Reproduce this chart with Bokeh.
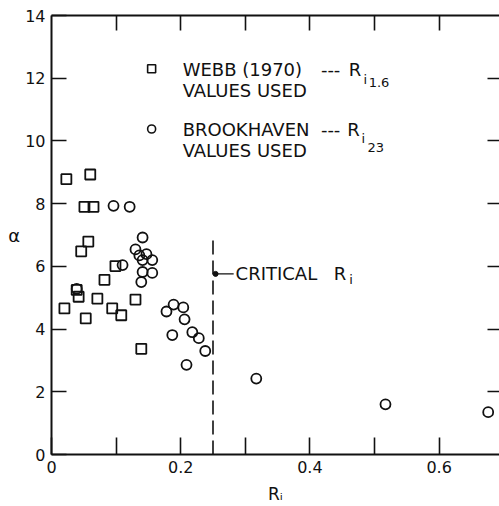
from bokeh.plotting import figure
from bokeh.models import Range1d, LinearAxis, FixedTicker, Label
from bokeh.embed import file_html
from bokeh.resources import INLINE

# ---- data ----
webb_ri = [0.023, 0.060, 0.051, 0.065, 0.057, 0.046, 0.099, 0.082, 0.020,
           0.039, 0.042, 0.053, 0.071, 0.094, 0.108, 0.130, 0.139]
webb_alpha = [8.78, 8.93, 7.90, 7.90, 6.79, 6.48, 6.01, 5.57, 4.66,
              5.25, 5.03, 4.34, 4.97, 4.66, 4.44, 4.94, 3.37]

brook_ri = [0.096, 0.121, 0.141, 0.130, 0.136, 0.147, 0.141, 0.156, 0.141,
            0.156, 0.139, 0.110, 0.178, 0.189, 0.204, 0.206, 0.187, 0.218,
            0.228, 0.238, 0.209, 0.317, 0.517, 0.676, 0.039]
brook_alpha = [7.93, 7.90, 6.92, 6.54, 6.35, 6.39, 6.20, 6.20, 5.82,
               5.79, 5.50, 6.04, 4.56, 4.78, 4.69, 4.31, 3.81, 3.90,
               3.71, 3.30, 2.86, 2.42, 1.60, 1.35, 5.28]

critical_ri = [0.25, 0.25]
critical_alpha = [0.0, 7.0]

x_major_ticks = [0, 0.2, 0.4, 0.6]
x_minor_ticks = [0.1, 0.3, 0.5]
x_top_ticks = [0.1, 0.2, 0.3, 0.4, 0.5, 0.6]
y_ticks = [0, 2, 4, 6, 8, 10, 12, 14]
y_right_ticks = [2, 4, 6, 8, 10, 12]

FONT = "DejaVu Sans"
INK = "#111111"

p = figure(width=499, height=506, output_backend="svg", toolbar_location=None,
           x_range=Range1d(0, 0.6935), y_range=Range1d(0, 14),
           min_border_left=51, min_border_right=0, min_border_top=15,
           min_border_bottom=46, x_axis_type=None, y_axis_type=None)
p.outline_line_color = None
p.background_fill_color = "white"
p.border_fill_color = "white"

def style(ax, tick_in, ticks=None):
    ax.axis_line_color = INK
    ax.axis_line_width = 2
    ax.major_tick_line_color = INK
    ax.major_tick_line_width = 1.6
    ax.major_tick_in = tick_in
    ax.major_tick_out = 0
    ax.minor_tick_line_color = INK
    ax.minor_tick_line_width = 1.6
    ax.minor_tick_in = tick_in
    ax.minor_tick_out = 0
    ax.major_label_text_font = FONT
    ax.major_label_text_font_size = "16px"
    ax.major_label_text_color = INK
    ax.major_label_standoff = 5
    if ticks is not None:
        ax.major_label_overrides = {t: "" for t in ticks}
        ax.major_label_standoff = 0

xb = LinearAxis(ticker=FixedTicker(ticks=x_major_ticks, minor_ticks=x_minor_ticks))
style(xb, 17)
xb.major_label_overrides = {0: "0", 0.2: "0.2", 0.4: "0.4", 0.6: "0.6"}
xb.major_label_standoff = 6
xb.axis_label = "Rᵢ"
xb.axis_label_text_font = FONT
xb.axis_label_text_font_style = "normal"
xb.axis_label_text_font_size = "17px"
xb.axis_label_text_color = INK
xb.axis_label_standoff = 8
p.add_layout(xb, "below")

yl = LinearAxis(ticker=FixedTicker(ticks=y_ticks, minor_ticks=[]))
style(yl, 15)
yl.major_label_standoff = 6
yl.axis_label = "α"
yl.axis_label_orientation = "horizontal"
yl.axis_label_text_font = FONT
yl.axis_label_text_font_style = "normal"
yl.axis_label_text_font_size = "18px"
yl.axis_label_text_color = INK
yl.axis_label_standoff = 2
p.add_layout(yl, "left")

xt = LinearAxis(ticker=FixedTicker(ticks=x_top_ticks, minor_ticks=[]))
style(xt, 15, ticks=x_top_ticks)
p.add_layout(xt, "above")

yr = LinearAxis(ticker=FixedTicker(ticks=y_right_ticks, minor_ticks=[]))
style(yr, 12, ticks=y_right_ticks)
yr.axis_line_color = None
p.add_layout(yr, "right")

p.xgrid.visible = False
p.ygrid.visible = False

# data
p.scatter(webb_ri, webb_alpha, marker="square", size=10, fill_color=None,
          line_color=INK, line_width=1.8)
p.scatter(brook_ri, brook_alpha, marker="circle", size=10, fill_color=None,
          line_color=INK, line_width=1.8)

# critical Ri dashed line
p.line(critical_ri, critical_alpha, line_color=INK, line_width=1.6, line_dash="14 6")

# leader to CRITICAL Ri
p.line([0.254, 0.282], [5.76, 5.76], line_color=INK, line_width=1.4)
p.scatter([0.254], [5.76], marker="circle", size=5, fill_color=INK, line_color=INK)

# legend markers
p.scatter([0.155], [12.3], marker="square", size=8, fill_color=None, line_color=INK, line_width=1.6)
p.scatter([0.155], [10.38], marker="circle", size=8, fill_color=None, line_color=INK, line_width=1.6)

def lab(x, y, text, size="18px", align="left", baseline="middle"):
    p.add_layout(Label(x=x, y=y, text=text, text_font=FONT, text_font_size=size,
                       text_color=INK, text_align=align, text_baseline=baseline))

lab(0.203, 12.27, "WEBB (1970)")
lab(0.417, 12.27, "---")
lab(0.460, 12.27, "R")
lab(0.483, 11.97, "i", size="13px")
lab(0.491, 11.86, "1.6", size="13px")
lab(0.203, 11.61, "VALUES USED")

lab(0.203, 10.38, "BROOKHAVEN")
lab(0.417, 10.38, "---")
lab(0.458, 10.38, "R")
lab(0.480, 10.07, "i", size="13px")
lab(0.489, 9.80, "23", size="13px")
lab(0.203, 9.69, "VALUES USED")

lab(0.285, 5.76, "CRITICAL")
lab(0.437, 5.76, "R")
lab(0.461, 5.57, "i", size="13px")

open("out.html", "w").write(file_html(p, INLINE))
